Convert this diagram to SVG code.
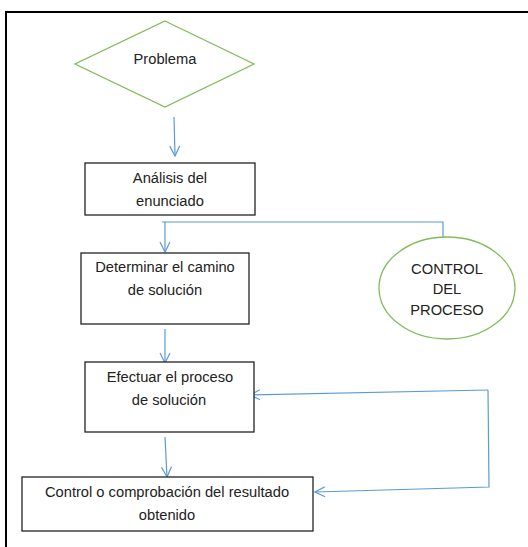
<svg xmlns="http://www.w3.org/2000/svg" width="528" height="547" viewBox="0 0 528 547">
<defs>
<style>
.frame{fill:none;stroke:#000;stroke-width:2}
.box{fill:#fff;stroke:#222;stroke-width:1.3}
.green{fill:#fff;stroke:#80BC5C;stroke-width:1.3}
.conn{fill:none;stroke:#5B9BD5;stroke-width:1.2}
text{font-family:"Liberation Sans",Arial,sans-serif;font-size:14.7px;fill:#222;text-anchor:middle}
</style>
<marker id="arr" viewBox="0 0 12 12" refX="11" refY="6" markerWidth="12" markerHeight="12" markerUnits="userSpaceOnUse" orient="auto">
<polyline points="1,1 11,6 1,11" fill="none" stroke="#5B9BD5" stroke-width="1.2"/>
</marker>
</defs>
<rect width="528" height="547" fill="#fff"/>
<path class="frame" d="M6,547 V12 H528"/>
<g id="connectors">
<line class="conn" x1="174" y1="117" x2="175" y2="156" marker-end="url(#arr)"/>
<polyline class="conn" points="162,222 443,222 443,237"/>
<line class="conn" x1="165" y1="222" x2="165" y2="252" marker-end="url(#arr)"/>
<line class="conn" x1="165" y1="329" x2="165" y2="363" marker-end="url(#arr)"/>
<line class="conn" x1="165" y1="437" x2="167" y2="477" marker-end="url(#arr)"/>
<polyline class="conn" points="488,390 489,487 315,492" marker-end="url(#arr)"/>
<line class="conn" x1="488" y1="390" x2="250" y2="395" marker-end="url(#arr)"/>
</g>
<g id="problema">
<polygon class="green" points="165,21 254,64 165,107 75,64"/>
<text x="165" y="64">Problema</text>
</g>
<g id="analisis">
<rect class="box" x="85" y="163" width="170" height="52"/>
<text x="170" y="183">Análisis del</text>
<text x="170" y="206">enunciado</text>
</g>
<g id="determinar">
<rect class="box" x="81" y="253" width="168" height="71"/>
<text x="165" y="272">Determinar el camino</text>
<text x="165" y="295">de solución</text>
</g>
<g id="control-proceso">
<ellipse class="green" cx="447" cy="288" rx="68" ry="51"/>
<text x="447" y="274">CONTROL</text>
<text x="447" y="294">DEL</text>
<text x="447" y="315">PROCESO</text>
</g>
<g id="efectuar">
<rect class="box" x="85" y="362" width="169" height="70"/>
<text x="170" y="382">Efectuar el proceso</text>
<text x="169" y="405">de solución</text>
</g>
<g id="comprobacion">
<rect class="box" x="22" y="477" width="291" height="54"/>
<text x="167" y="497">Control o comprobación del resultado</text>
<text x="167" y="520">obtenido</text>
</g>
</svg>
